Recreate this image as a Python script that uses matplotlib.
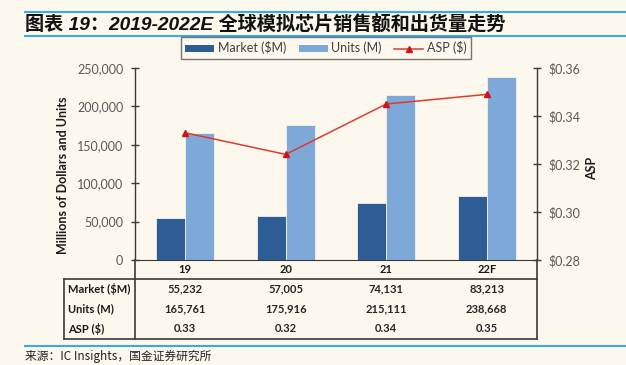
import matplotlib
matplotlib.use("Agg")
import matplotlib.pyplot as plt
import matplotlib.transforms as mtransforms
from matplotlib.lines import Line2D
from matplotlib.patches import Patch
import numpy as np

# donnees
categories = ["19", "20", "21", "22F"]
market = [55232, 57005, 74131, 83213]
units = [165761, 175916, 215111, 238668]
asp = [0.333, 0.324, 0.345, 0.349]
asp_labels = ["0.33", "0.32", "0.34", "0.35"]
row_labels = ["Market ($M)", "Units (M)", "ASP ($)"]
left_ticks = [0, 50000, 100000, 150000, 200000, 250000]
right_ticks = [0.28, 0.30, 0.32, 0.34, 0.36]

W, H = 626, 365
BG = "#fdf8ee"
C_MARKET = "#2e5d95"
C_UNITS = "#7ea8d8"
C_RED = "#e03a2c"
C_LINE = "#3a3a3a"
C_BLUE = "#3aa8ec"

plt.rcParams["font.family"] = ["Lato", "Noto Sans CJK SC", "DejaVu Sans"]


def fx(x):
    return x / W


def fy(y):
    return 1 - y / H


fig = plt.figure(figsize=(W / 100, H / 100), dpi=100, facecolor=BG)

# axes principal : x 135..537, y 68..260 (pixels)
ax = fig.add_axes([fx(135), fy(260), (537 - 135) / W, (260 - 68) / H])
ax.set_facecolor("none")
ax2 = ax.twinx()
ax2.set_facecolor("none")

x = np.arange(len(categories))
bw = 0.29
ax.bar(x - bw / 2, market, bw, color=C_MARKET, edgecolor="#f4f1ea", linewidth=0.6, label="Market ($M)")
ax.bar(x + bw / 2, units, bw, color=C_UNITS, edgecolor="#f4f1ea", linewidth=0.6, label="Units (M)")
ax.set_xlim(-0.5, len(categories) - 0.5)
ax.set_ylim(0, 250000)
ax.set_yticks(left_ticks)
ax.set_yticklabels([f"{v:,}" for v in left_ticks])
ax.set_xticks([])

ax2.plot(x, asp, color=C_RED, linewidth=1.1, marker="^", markersize=5,
         markerfacecolor="#d0121b", markeredgecolor="#d0121b", label="ASP ($)")
ax2.set_ylim(0.28, 0.36)
ax2.set_yticks(right_ticks)
ax2.set_yticklabels([f"${v:.2f}" for v in right_ticks])

for a in (ax, ax2):
    for s in ("top",):
        a.spines[s].set_visible(False)
    a.spines["left"].set_color(C_LINE)
    a.spines["right"].set_color(C_LINE)
    a.spines["bottom"].set_color(C_LINE)
    a.spines["left"].set_linewidth(1.0)
    a.spines["right"].set_linewidth(1.0)
    a.tick_params(axis="y", direction="inout", length=6, width=1.0, color=C_LINE,
                  pad=5.5, labelsize=9, labelcolor="#595959")
ax.spines["right"].set_visible(False)
ax2.spines["left"].set_visible(False)
ax2.spines["bottom"].set_visible(False)

fig.text(fx(63), fy(175), "Millions of Dollars and Units", rotation=90, ha="center", va="center",
         fontsize=9, fontweight="bold", color="#1a1a1a")
fig.text(fx(592), fy(168), "ASP", rotation=90, ha="center", va="center",
         fontsize=9, fontweight="bold", color="#1a1a1a")

# tableau sous le graphique
def hline(x0, x1, y, lw=1.2):
    fig.add_artist(Line2D([fx(x0), fx(x1)], [fy(y), fy(y)], color=C_LINE, linewidth=lw))


def vline(xp, y0, y1, lw=1.2):
    fig.add_artist(Line2D([fx(xp), fx(xp)], [fy(y0), fy(y1)], color=C_LINE, linewidth=lw))


hline(64, 537, 279)
hline(64, 537, 339)
vline(64, 279, 339)
vline(135, 260, 339)
vline(537, 260, 339)

tr = mtransforms.blended_transform_factory(ax.transData, fig.transFigure)
for i, c in enumerate(categories):
    ax.text(i, fy(269.5), c, transform=tr, ha="center", va="center", fontsize=8,
            fontweight="bold", color="#1a1a1a")

row_y = [289, 309, 329]
rows = [[f"{v:,}" for v in market], [f"{v:,}" for v in units], asp_labels]
for ry, lab, vals in zip(row_y, row_labels, rows):
    fig.text(fx(68), fy(ry), lab, ha="left", va="center", fontsize=8, fontweight="bold", color="#1a1a1a")
    for i, v in enumerate(vals):
        ax.text(i, fy(ry), v, transform=tr, ha="center", va="center", fontsize=8,
                fontweight="bold", color="#262626")

# legende
handles = [Patch(facecolor=C_MARKET, edgecolor="none", label="Market ($M)"),
           Patch(facecolor=C_UNITS, edgecolor="none", label="Units (M)"),
           Line2D([], [], color=C_RED, linewidth=1.1, marker="^", markersize=4,
                  markerfacecolor="#d0121b", markeredgecolor="#d0121b", label="ASP ($)")]
leg = fig.legend(handles=handles, loc="center", bbox_to_anchor=(fx(326), fy(48)), ncol=3,
                 frameon=True, fancybox=False, fontsize=9, handlelength=2.3, handleheight=0.5,
                 handletextpad=0.3, columnspacing=1.0, borderpad=0.35, labelcolor="#404040")
leg.get_frame().set_edgecolor("#555555")
leg.get_frame().set_linewidth(1.0)
leg.get_frame().set_facecolor(BG)

# titre et source
fig.add_artist(Line2D([fx(25), 1], [fy(12), fy(12)], color=C_BLUE, linewidth=1.5))
fig.add_artist(Line2D([fx(25), 1], [fy(36), fy(36)], color=C_BLUE, linewidth=1.5))
fig.add_artist(Line2D([fx(25), 1], [fy(346), fy(346)], color=C_BLUE, linewidth=1.5))
fig.text(fx(25), fy(24), "图表 19：2019-2022E 全球模拟芯片销售额和出货量走势", ha="left", va="center",
         fontsize=13.8, fontweight="bold", fontstyle="italic",
         family=["Liberation Sans", "Noto Sans CJK SC"], color="#111111")
fig.text(fx(25), fy(356), "来源：IC Insights，国金证券研究所", ha="left", va="center", fontsize=8.5,
         family=["Noto Sans CJK SC", "DejaVu Sans"], color="#222222")

plt.savefig("out.png", dpi=100, facecolor=BG)
